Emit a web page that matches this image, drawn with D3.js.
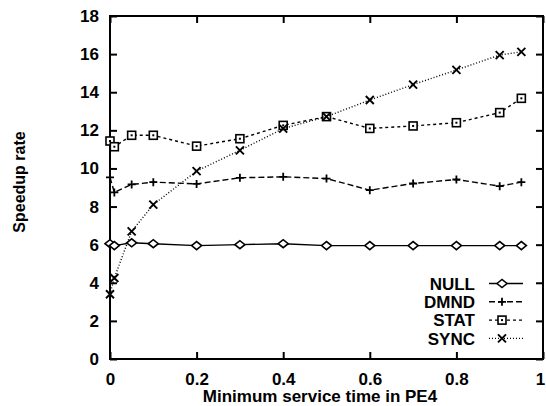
<!DOCTYPE html>
<html>
<head>
<meta charset="utf-8">
<script src="https://cdn.jsdelivr.net/npm/d3@7"></script>
<style>
  body { margin: 0; background: #fff; }
</style>
</head>
<body>
<script>
const serviceTimes = [0, 0.01, 0.05, 0.1, 0.2, 0.3, 0.4, 0.5, 0.6, 0.7, 0.8, 0.9, 0.95];
const nullValues = [6.05, 5.95, 6.1, 6.05, 5.95, 6.0, 6.05, 5.95, 5.95, 5.95, 5.95, 5.95, 5.95];
const dmndValues = [9.53, 8.74, 9.16, 9.28, 9.19, 9.51, 9.56, 9.47, 8.86, 9.21, 9.42, 9.07, 9.28];
const statValues = [11.44, 11.14, 11.74, 11.74, 11.17, 11.56, 12.26, 12.72, 12.1, 12.23, 12.4, 12.93, 13.68];
const syncValues = [3.4, 4.25, 6.7, 8.1, 9.86, 10.95, 12.09, 12.72, 13.59, 14.4, 15.17, 15.95, 16.12];
const seriesNames = ["NULL", "DMND", "STAT", "SYNC"];
const xTicks = [0, 0.2, 0.4, 0.6, 0.8, 1];
const yTicks = [0, 2, 4, 6, 8, 10, 12, 14, 16, 18];

const series = [
  { name: "NULL", values: nullValues, dash: null, marker: "diamond" },
  { name: "DMND", values: dmndValues, dash: "6 3", marker: "plus" },
  { name: "STAT", values: statValues, dash: "3 3", marker: "square" },
  { name: "SYNC", values: syncValues, dash: "1 2", marker: "cross" },
];

const width = 546;
const height = 406;
const plot = { left: 110, right: 543, top: 16, bottom: 359 };
const font = "'Liberation Sans', Arial, sans-serif";

const xScale = d3.scaleLinear().domain([0, 1]).range([plot.left, plot.right]);
const yScale = d3.scaleLinear().domain([0, 18]).range([plot.bottom, plot.top]);

const svg = d3
  .select("body")
  .append("svg")
  .attr("width", width)
  .attr("height", height)
  .attr("viewBox", `0 0 ${width} ${height}`);

// markers drawn around (0,0)
const drawMarker = (g, type) => {
  const s = 4;
  if (type === "diamond") {
    g.append("path")
      .attr("d", `M${-s - 1},0L0,${-s}L${s + 1},0L0,${s}Z`)
      .attr("fill", "#fff")
      .attr("stroke", "#000")
      .attr("stroke-width", 1.6);
  } else if (type === "plus") {
    g.append("path")
      .attr("d", `M${-s},0H${s}M0,${-s}V${s}`)
      .attr("stroke", "#000")
      .attr("stroke-width", 1.8);
  } else if (type === "square") {
    g.append("rect")
      .attr("x", -s)
      .attr("y", -s)
      .attr("width", s * 2)
      .attr("height", s * 2)
      .attr("fill", "#fff")
      .attr("stroke", "#000")
      .attr("stroke-width", 1.6);
    g.append("rect")
      .attr("x", -1)
      .attr("y", -1)
      .attr("width", 2)
      .attr("height", 2)
      .attr("fill", "#000");
  } else {
    g.append("path")
      .attr("d", `M${-s},${-s}L${s},${s}M${-s},${s}L${s},${-s}`)
      .attr("stroke", "#000")
      .attr("stroke-width", 1.9);
  }
};

// axes: ticks inward on all four sides
const xAxisBottom = d3.axisBottom(xScale).tickValues(xTicks).tickSize(-7).tickPadding(14).tickFormat(d3.format("~g"));
const xAxisTop = d3.axisTop(xScale).tickValues(xTicks).tickSize(-7).tickFormat("");
const yAxisLeft = d3.axisLeft(yScale).tickValues(yTicks).tickSize(-7).tickPadding(11);
const yAxisRight = d3.axisRight(yScale).tickValues(yTicks).tickSize(-7).tickFormat("");

const axisGroup = svg.append("g");

axisGroup.append("g").attr("class", "axis x-axis").attr("transform", `translate(0 ${plot.bottom})`).call(xAxisBottom);
axisGroup.append("g").attr("class", "axis").attr("transform", `translate(0 ${plot.top})`).call(xAxisTop);
axisGroup.append("g").attr("class", "axis").attr("transform", `translate(${plot.left} 0)`).call(yAxisLeft);
axisGroup.append("g").attr("class", "axis").attr("transform", `translate(${plot.right} 0)`).call(yAxisRight);

axisGroup.selectAll(".axis path").remove();
axisGroup.selectAll(".axis line").attr("stroke", "#000").attr("stroke-width", 2);
axisGroup
  .selectAll(".axis text")
  .attr("font-family", font)
  .attr("font-size", 17)
  .attr("font-weight", "bold")
  .attr("fill", "#000");

// last x label sits against the page edge
axisGroup
  .select(".x-axis")
  .selectAll("text")
  .filter((d) => d === 1)
  .attr("x", -3);

axisGroup
  .append("rect")
  .attr("x", plot.left)
  .attr("y", plot.top)
  .attr("width", plot.right - plot.left)
  .attr("height", plot.bottom - plot.top)
  .attr("fill", "none")
  .attr("stroke", "#000")
  .attr("stroke-width", 2);

// data
const line = d3
  .line()
  .x((d) => xScale(d[0]))
  .y((d) => yScale(d[1]));

const dataGroup = svg.append("g");

series.forEach((s) => {
  const points = serviceTimes.map((t, i) => [t, s.values[i]]);
  dataGroup
    .append("path")
    .datum(points)
    .attr("d", line)
    .attr("fill", "none")
    .attr("stroke", "#000")
    .attr("stroke-width", 1.4)
    .attr("stroke-dasharray", s.dash);

  dataGroup
    .selectAll(null)
    .data(points)
    .enter()
    .append("g")
    .attr("transform", ([x, y]) => `translate(${xScale(x)} ${yScale(y)})`)
    .each(function () {
      drawMarker(d3.select(this), s.marker);
    });
});

// legend
const legend = svg.append("g");
series.forEach((s, i) => {
  const y = 283.5 + i * 18.3;
  legend
    .append("text")
    .attr("x", 475)
    .attr("y", y)
    .attr("dy", "0.36em")
    .attr("text-anchor", "end")
    .attr("font-family", font)
    .attr("font-size", 17)
    .attr("font-weight", "bold")
    .text(seriesNames[i]);
  legend
    .append("line")
    .attr("x1", 489)
    .attr("x2", 523)
    .attr("y1", y)
    .attr("y2", y)
    .attr("stroke", "#000")
    .attr("stroke-width", 1.4)
    .attr("stroke-dasharray", s.dash);
  drawMarker(legend.append("g").attr("transform", `translate(502 ${y})`), s.marker);
});

// axis titles
svg
  .append("text")
  .attr("x", 320)
  .attr("y", 402)
  .attr("text-anchor", "middle")
  .attr("font-family", font)
  .attr("font-size", 17)
  .attr("font-weight", "bold")
  .text("Minimum service time in PE4");

svg
  .append("text")
  .attr("transform", "translate(25 182) rotate(-90)")
  .attr("text-anchor", "middle")
  .attr("font-family", font)
  .attr("font-size", 16)
  .attr("font-weight", "bold")
  .text("Speedup rate");
</script>
</body>
</html>
